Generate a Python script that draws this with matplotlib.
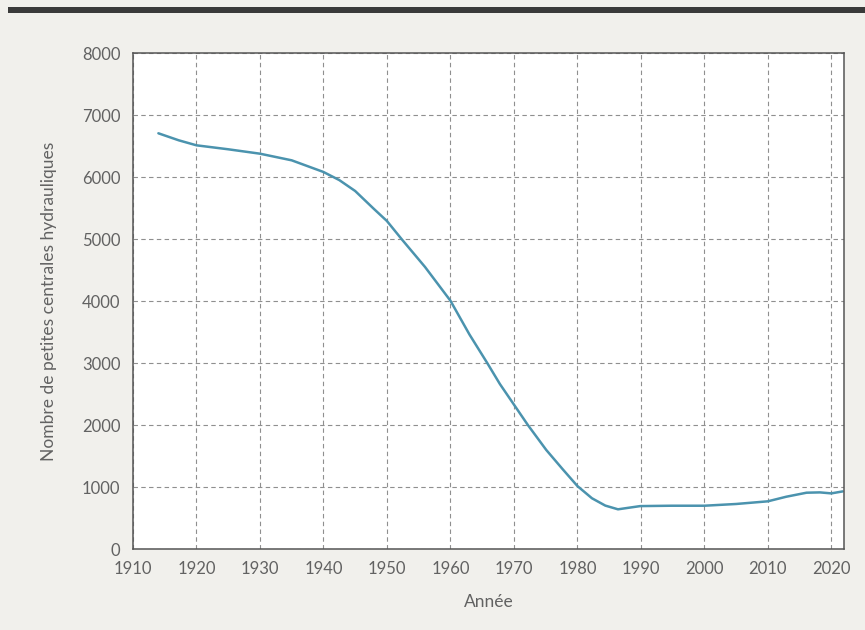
import numpy as np
import matplotlib
matplotlib.use('Agg')
import matplotlib.pyplot as plt
from matplotlib.patches import Rectangle

# valeurs
annees = [1914.0, 1917.2, 1920, 1925, 1930, 1935, 1940, 1942.5, 1945, 1947.9, 1950,
          1952.3, 1956, 1960, 1963, 1965.8, 1967.8, 1970, 1972.2, 1975.1, 1977.7,
          1980, 1982.3, 1984.4, 1986.4, 1987.8, 1989.9, 1994.8, 2000, 2005, 2010,
          2012.9, 2016.1, 2018.2, 2020, 2021.8]
nombre = [6705, 6592, 6511, 6447, 6376, 6269, 6081, 5950, 5774, 5490, 5290,
          5000, 4549, 4005, 3460, 3000, 2660, 2330, 2000, 1597, 1285,
          1016, 818, 700, 640, 661, 692, 698, 698, 726, 769,
          843, 908, 913, 897, 929]

xticks = list(range(1910, 2021, 10))
yticks = list(range(0, 8001, 1000))

plt.rcParams['font.family'] = ['Lato', 'DejaVu Sans']

fig = plt.figure(figsize=(8.65, 6.3), dpi=100)
fig.patch.set_facecolor('#f1f0ec')
fig.patches.append(Rectangle((8 / 865, 1 - 13 / 630), 1, 6 / 630, transform=fig.transFigure,
                             facecolor='#3a3a3a', edgecolor='none'))

ax = fig.add_axes([133 / 865, 1 - 549 / 630, 711 / 865, 496 / 630])
ax.set_facecolor('white')
ax.plot(annees, nombre, color='#4b93ae', linewidth=1.8,
        solid_capstyle='round', solid_joinstyle='round')

ax.set_xlim(1910, 2022)
ax.set_ylim(0, 8000)
ax.set_xticks(xticks)
ax.set_yticks(yticks)
ax.grid(True, color='#8f8f8f', linestyle=(0, (4, 3)), linewidth=0.8)
ax.tick_params(length=0, labelsize=12, labelcolor='#626262', pad=9)
for s in ax.spines.values():
    s.set_color('#555555')
    s.set_linewidth(1.1)

ax.set_xlabel('Année', fontsize=12.5, color='#626262', labelpad=12)
ax.set_ylabel('Nombre de petites centrales hydrauliques', fontsize=12.5, color='#626262',
              labelpad=18)

fig.savefig('out.png', dpi=100, facecolor=fig.get_facecolor())
